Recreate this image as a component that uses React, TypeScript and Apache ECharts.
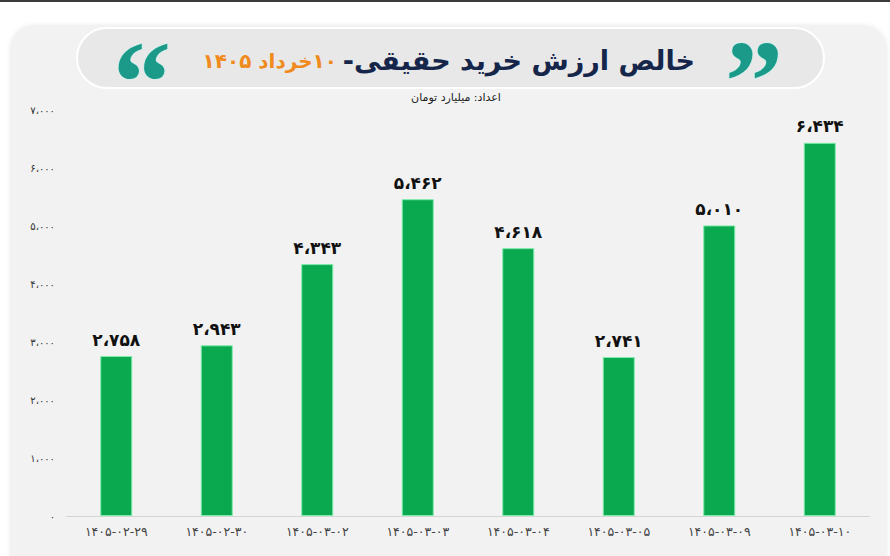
import React, { useEffect, useRef } from "react";
import * as echarts from "echarts";

const categories = [
  "۱۴۰۵-۰۲-۲۹",
  "۱۴۰۵-۰۲-۳۰",
  "۱۴۰۵-۰۳-۰۲",
  "۱۴۰۵-۰۳-۰۳",
  "۱۴۰۵-۰۳-۰۴",
  "۱۴۰۵-۰۳-۰۵",
  "۱۴۰۵-۰۳-۰۹",
  "۱۴۰۵-۰۳-۱۰",
];
const netValues = [2758, 2943, 4343, 5462, 4618, 2741, 5010, 6434];
const yMax = 7000;
const yInterval = 1000;

const titleMain = "خالص ارزش خرید حقیقی-";
const titleDate = "۱۰خرداد ۱۴۰۵";
const subtitle = "اعداد: میلیارد تومان";

const FA = "۰۱۲۳۴۵۶۷۸۹";
function toFa(n: number): string {
  const s = Math.round(n).toString().replace(/\B(?=(\d{3})+(?!\d))/g, "\u060C");
  return s.replace(/\d/g, (d) => FA[+d]);
}

const RLE = "\u202B";
const PDF = "\u202C";
const FONT = "'DejaVu Sans', sans-serif";

export default function App() {
  const ref = useRef<HTMLDivElement>(null);
  useEffect(() => {
    if (!ref.current) return;
    const chart = echarts.init(ref.current, null, { renderer: "svg" });
    chart.setOption({
      animation: false,
      backgroundColor: "#ffffff",
      graphic: [
        { type: "rect", z: -10, shape: { x: 0, y: 0, width: 890, height: 2 }, style: { fill: "#3a3a3a" } },
        {
          type: "rect",
          z: -10,
          shape: { x: 10, y: 25, width: 877, height: 560, r: 24 },
          style: { fill: "#f2f2f2", shadowBlur: 4, shadowColor: "rgba(0,0,0,0.08)" },
        },
        {
          type: "rect",
          z: -9,
          shape: { x: 77, y: 28, width: 747, height: 60, r: 30 },
          style: { fill: "#e8e8e8", stroke: "#ffffff", lineWidth: 2 },
        },
        {
          type: "text",
          z: 5,
          x: 142,
          y: 82,
          style: {
            text: "\u201C",
            font: "bold 116px 'Liberation Serif', serif",
            fill: "#1b9a8a",
            stroke: "#bff0ea",
            lineWidth: 1,
            align: "center",
            verticalAlign: "middle",
          },
        },
        {
          type: "text",
          z: 5,
          x: 754,
          y: 82,
          style: {
            text: "\u201D",
            font: "bold 116px 'Liberation Serif', serif",
            fill: "#1b9a8a",
            stroke: "#bff0ea",
            lineWidth: 1,
            align: "center",
            verticalAlign: "middle",
          },
        },
        {
          type: "text",
          z: 5,
          x: 695,
          y: 60,
          style: {
            text: RLE + titleMain + PDF,
            font: "bold 27px " + FONT,
            fill: "#15264a",
            align: "right",
            verticalAlign: "middle",
          },
        },
        {
          type: "text",
          z: 5,
          x: 337,
          y: 61,
          style: {
            text: RLE + titleDate + PDF,
            font: "bold 20px " + FONT,
            fill: "#f08a1c",
            align: "right",
            verticalAlign: "middle",
          },
        },
        {
          type: "text",
          z: 5,
          x: 456,
          y: 97,
          style: {
            text: RLE + subtitle + PDF,
            font: "11px " + FONT,
            fill: "#222222",
            align: "center",
            verticalAlign: "middle",
          },
        },
      ],
      grid: { left: 66, right: 20, top: 110, bottom: 40, containLabel: false },
      xAxis: {
        type: "category",
        data: categories,
        axisLine: { lineStyle: { color: "#d4d4d4", width: 1 } },
        axisTick: { show: false },
        axisLabel: { color: "#444444", fontFamily: FONT, fontSize: 12.5, margin: 9 },
      },
      yAxis: {
        type: "value",
        min: 0,
        max: yMax,
        interval: yInterval,
        splitLine: { show: false },
        axisLine: { show: false },
        axisTick: { show: false },
        axisLabel: {
          color: "#333333",
          fontFamily: FONT,
          fontSize: 10,
          margin: 11,
          formatter: (v: number) => toFa(v),
        },
      },
      series: [
        {
          type: "bar",
          data: netValues,
          barWidth: 32,
          itemStyle: {
            color: "#0aa84f",
            borderColor: "#7debaa",
            borderWidth: 1,
          },
          label: {
            show: true,
            position: "top",
            distance: 8,
            color: "#111111",
            fontFamily: FONT,
            fontWeight: "bold",
            fontSize: 17,
            formatter: (p: any) => toFa(p.value),
          },
        },
      ],
    });
    return () => chart.dispose();
  }, []);
  return (
    <div
      ref={ref}
      style={{ position: "fixed", left: 0, top: 0, width: 890, height: 556 }}
    />
  );
}
